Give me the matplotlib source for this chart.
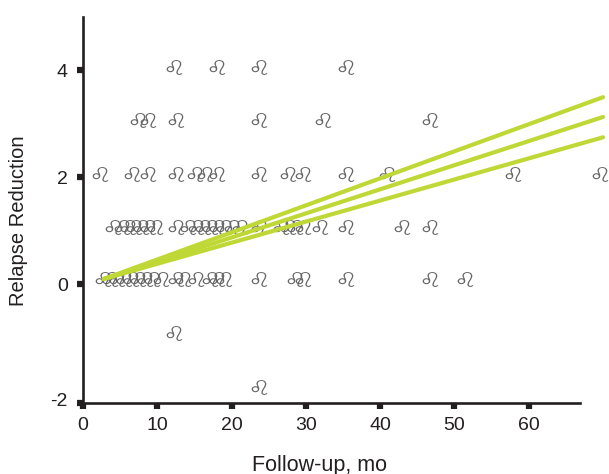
import matplotlib
matplotlib.use('Agg')
import matplotlib.pyplot as plt
from matplotlib.font_manager import FontProperties
from matplotlib.path import Path
from matplotlib.text import TextPath
from matplotlib.transforms import Affine2D, ScaledTranslation

plt.rcParams['font.family'] = ['Liberation Sans', 'DejaVu Sans']

# points read row by row, x in months, y as placed on the chart
row_4_x = [12.3, 18.1, 23.7, 35.4]
row_3_x = [7.4, 8.7, 12.5, 23.7, 32.3, 46.7]
row_2_x = [2.3, 6.6, 8.7, 12.5, 15.1, 16.4, 18.1, 23.7, 27.6, 29.6, 35.4, 40.9, 57.9, 69.6]
row_1_x = [4.0, 5.2, 6.0, 6.8, 7.8, 8.7, 9.7, 12.5, 14.2, 15.2, 16.1, 17.1, 18.1, 19.0, 20.0, 21.1,
           23.7, 26.6, 27.6, 28.5, 29.6, 31.9, 35.4, 42.9, 46.7]
row_0_x = [2.7, 3.6, 4.6, 5.5, 6.4, 7.4, 8.3, 9.3, 10.5, 12.5, 13.5, 15.2, 17.1, 18.1, 19.0,
           23.7, 28.5, 29.6, 35.4, 46.7, 51.4]
row_m1_x = [12.3]
row_m2_x = [23.7]

rows_y = [4.06, 3.08, 2.06, 1.08, 0.1, -0.92, -1.92]

line_x = [2.8, 70]
upper_y = [0.1, 3.5]
middle_y = [0.1, 3.13]
lower_y = [0.1, 2.75]

x_ticks = [0, 10, 20, 30, 40, 50, 60]
y_ticks = [-2.22, 0, 2, 4]
y_tick_labels = ['-2', '0', '2', '4']

W, H = 609, 474
dark = '#231f20'
green = '#c0d835'

# the chart's point symbol is a wide leo sign, stretched from the font outline
glyph = TextPath((0, 0), '\u264c', size=10, prop=FontProperties(family='DejaVu Sans'))
box = glyph.get_extents()
glyph = glyph.transformed(Affine2D().translate(-box.x0 - box.width / 2, -box.y0 - box.height / 2).scale(1.25, 1))
leo_marker = Path(glyph.vertices, glyph.codes)

fig = plt.figure(figsize=(W / 100, H / 100), dpi=100)
ax = fig.add_axes([83 / W, 1 - 403 / H, (580 - 83) / W, (403 - 17) / H])
ax.set_xlim(0, 66.9)
ax.set_ylim(-2.22, 5.0)

all_rows = [row_4_x, row_3_x, row_2_x, row_1_x, row_0_x, row_m1_x, row_m2_x]
for xs, y in zip(all_rows, rows_y):
    ax.scatter(xs, [y] * len(xs), marker=leo_marker, s=270, facecolor='#666666',
               linewidth=0, clip_on=False, zorder=2)

for ys in [upper_y, middle_y, lower_y]:
    ax.plot(line_x, ys, color=green, lw=3, solid_capstyle='round', clip_on=False, zorder=3)

for side in ['top', 'right']:
    ax.spines[side].set_visible(False)
for side in ['left', 'bottom']:
    ax.spines[side].set_linewidth(1.9)
    ax.spines[side].set_color(dark)

ax.set_xticks(x_ticks)
ax.set_yticks(y_ticks)
ax.set_yticklabels(y_tick_labels)
ax.tick_params(axis='x', length=4, width=4.5, color=dark, labelcolor=dark, labelsize=14, pad=6)
ax.tick_params(axis='y', length=4, width=4.5, color=dark, labelcolor=dark, labelsize=14, pad=7)

# the -2 label sits a little above its tick
lift = ScaledTranslation(0, 4 / 100, fig.dpi_scale_trans)
bottom_label = ax.get_yticklabels()[0]
bottom_label.set_transform(bottom_label.get_transform() + lift)

fig.text(320 / W, 1 - 465 / H, 'Follow-up, mo', fontsize=15.5, color=dark, ha='center', va='center')
fig.text(19 / W, 1 - 221 / H, 'Relapse Reduction', fontsize=14.5, color=dark, rotation=90,
         ha='center', va='center')

fig.savefig('out.png', dpi=100)
